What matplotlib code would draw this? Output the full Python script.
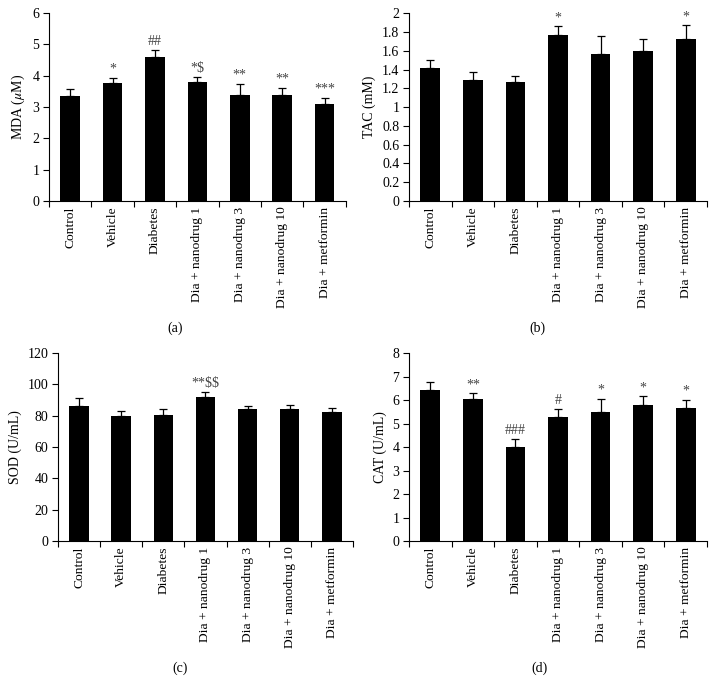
import matplotlib
matplotlib.use("Agg")
import matplotlib.pyplot as plt
import numpy as np

plt.rcParams['font.family'] = ['Liberation Serif', 'DejaVu Serif']
plt.rcParams['mathtext.fontset'] = 'stix'

categories = ["Control", "Vehicle", "Diabetes", "Dia + nanodrug 1",
              "Dia + nanodrug 3", "Dia + nanodrug 10", "Dia + metformin"]

mda = [3.34, 3.77, 4.61, 3.81, 3.40, 3.39, 3.11]
mda_err = [0.25, 0.15, 0.21, 0.14, 0.35, 0.22, 0.18]
mda_sig = ["", "*", "##", "*$", "**", "**", "***"]

tac = [1.42, 1.285, 1.27, 1.765, 1.565, 1.595, 1.72]
tac_err = [0.08, 0.09, 0.065, 0.095, 0.19, 0.125, 0.15]
tac_sig = ["", "", "", "*", "", "", "*"]

sod = [86.0, 79.5, 80.6, 91.8, 84.1, 84.3, 82.6]
sod_err = [5.0, 3.3, 3.4, 3.2, 2.0, 2.4, 2.2]
sod_sig = ["", "", "", "**$$", "", "", ""]

cat = [6.44, 6.03, 4.01, 5.29, 5.48, 5.77, 5.66]
cat_err = [0.33, 0.25, 0.33, 0.31, 0.58, 0.38, 0.33]
cat_sig = ["", "**", "###", "#", "*", "*", "*"]

panels = [
    dict(vals=mda, err=mda_err, sig=mda_sig, ylabel="MDA ($\\mu$M)", ylim=(0, 6),
         yticks=np.arange(0, 7, 1), letter="(a)",
         pos=[0.0687, 0.710, 0.4163, 0.271], lab=(175, 328)),
    dict(vals=tac, err=tac_err, sig=tac_sig, ylabel="TAC (mM)", ylim=(0, 2),
         yticks=np.arange(0, 2.01, 0.2), letter="(b)",
         pos=[0.5736, 0.710, 0.418, 0.271], lab=(537, 328)),
    dict(vals=sod, err=sod_err, sig=sod_sig, ylabel="SOD (U/mL)", ylim=(0, 120),
         yticks=np.arange(0, 121, 20), letter="(c)",
         pos=[0.0813, 0.2193, 0.4137, 0.2713], lab=(180, 668)),
    dict(vals=cat, err=cat_err, sig=cat_sig, ylabel="CAT (U/mL)", ylim=(0, 8),
         yticks=np.arange(0, 9, 1), letter="(d)",
         pos=[0.5736, 0.2193, 0.418, 0.2713], lab=(540, 668)),
]

fig = plt.figure(figsize=(7.13, 6.93), dpi=100)
x = np.arange(len(categories))
for p in panels:
    ax = fig.add_axes(p["pos"])
    ax.bar(x, p["vals"], width=0.46, color="black", zorder=2)
    ax.errorbar(x, p["vals"], yerr=[np.zeros(len(x)), p["err"]], fmt="none",
                ecolor="black", elinewidth=0.9, capsize=3, capthick=0.9, zorder=3)
    top = p["ylim"][1]
    for xi, v, e, s in zip(x, p["vals"], p["err"], p["sig"]):
        if s:
            ax.text(xi, v + e + top * 0.012, s, ha="center", va="bottom",
                    fontsize=10, color="#444444", parse_math=False)
    ax.set_xlim(-0.5, len(x) - 0.5)
    ax.set_ylim(*p["ylim"])
    ax.set_yticks(p["yticks"])
    ax.set_yticklabels([f"{round(v, 2):g}" for v in p["yticks"]], fontsize=10)
    ax.set_xticks(np.arange(-0.5, len(x), 1.0))
    ax.set_xticklabels([])
    ax.set_xticks(x, minor=True)
    ax.set_xticklabels(categories, minor=True, rotation=90, fontsize=9.7)
    ax.tick_params(axis="x", which="minor", length=0, pad=4)
    ax.tick_params(axis="x", which="major", length=4, width=0.8, direction="out")
    ax.tick_params(axis="y", length=4, width=0.8, direction="out", pad=3)
    ax.spines["top"].set_visible(False)
    ax.spines["right"].set_visible(False)
    ax.spines["left"].set_linewidth(0.8)
    ax.spines["bottom"].set_linewidth(0.8)
    ax.set_ylabel(p["ylabel"], fontsize=10)
    fig.text(p["lab"][0] / 713, 1 - p["lab"][1] / 693, p["letter"], ha="center",
             va="center", fontsize=10)

fig.savefig("out.png", dpi=100)
